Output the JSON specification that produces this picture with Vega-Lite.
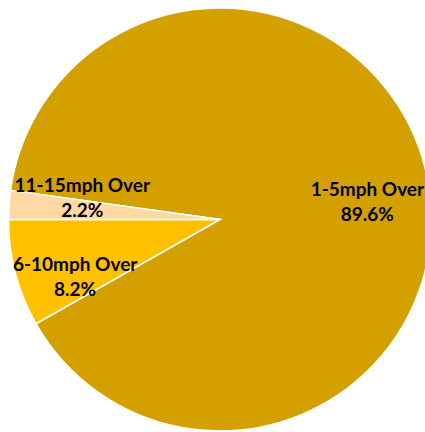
{
  "$schema": "https://vega.github.io/schema/vega-lite/v6.json",
  "width": 410,
  "height": 425,
  "autosize": "none",
  "padding": {"left": 15, "top": 7, "right": 0, "bottom": 0},
  "background": "white",
  "config": {"view": {"stroke": null}},
  "data": {
    "values": [
      {"category": "1-5mph Over", "value": 89.6, "rank": 1, "label": "1-5mph Over\n89.6%"},
      {"category": "6-10mph Over", "value": 8.2, "rank": 2, "label": "6-10mph Over\n8.2%"},
      {"category": "11-15mph Over", "value": 2.2, "rank": 3, "label": "11-15mph Over\n2.2%"}
    ]
  },
  "encoding": {
    "theta": {"field": "value", "type": "quantitative", "stack": true, "scale": {"range": [4.8505, 11.1337]}},
    "order": {"field": "rank", "type": "quantitative"}
  },
  "layer": [
    {
      "mark": {"type": "arc", "radius": 211.5, "stroke": "white", "strokeWidth": 1.5},
      "encoding": {
        "color": {
          "field": "category",
          "type": "nominal",
          "legend": null,
          "scale": {
            "domain": ["1-5mph Over", "6-10mph Over", "11-15mph Over"],
            "range": ["#D4A000", "#FFC000", "#FFD8A6"]
          }
        }
      }
    },
    {
      "mark": {"type": "text", "radius": 148, "dx": 2, "dy": -2, "font": "Lato", "fontWeight": "bold", "fontSize": 19, "lineHeight": 25, "lineBreak": "\n", "color": "black", "align": "center", "baseline": "middle"},
      "encoding": {
        "text": {"condition": {"test": "datum.category === '1-5mph Over'", "field": "label"}, "value": ""}
      }
    },
    {
      "mark": {"type": "text", "radius": 139, "dx": 1, "dy": -23.5, "font": "Lato", "fontWeight": "bold", "fontSize": 19, "lineHeight": 25, "lineBreak": "\n", "color": "black", "align": "center", "baseline": "middle"},
      "encoding": {
        "text": {"condition": {"test": "datum.category === '11-15mph Over'", "field": "label"}, "value": ""}
      }
    },
    {
      "mark": {"type": "text", "radius": 155, "dx": 5, "dy": 5.5, "font": "Lato", "fontWeight": "bold", "fontSize": 19, "lineHeight": 25, "lineBreak": "\n", "color": "black", "align": "center", "baseline": "middle"},
      "encoding": {
        "text": {"condition": {"test": "datum.category === '6-10mph Over'", "field": "label"}, "value": ""}
      }
    }
  ]
}
